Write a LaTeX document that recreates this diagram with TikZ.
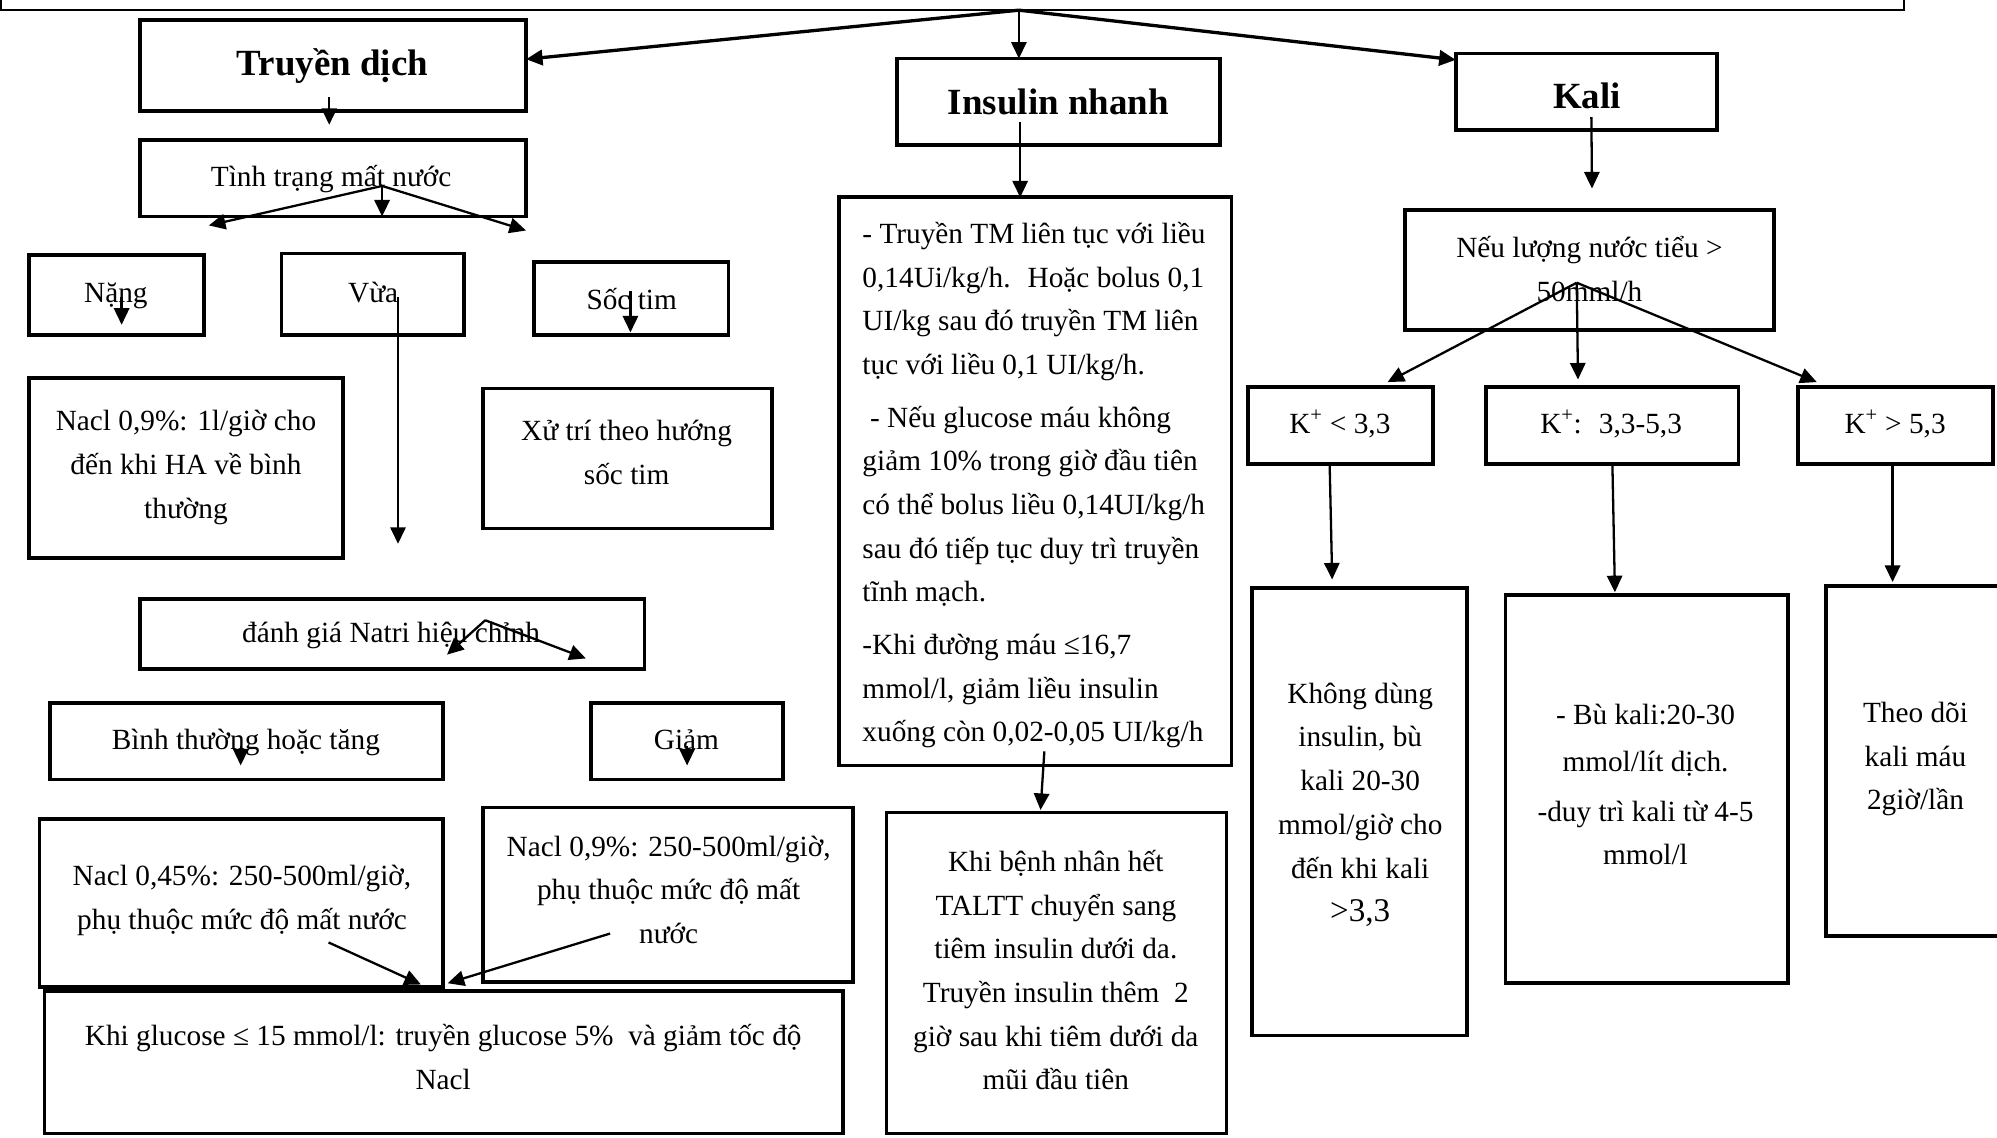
\documentclass[tikz,border=0pt]{standalone}
\usepackage{fontspec}
\setmainfont{Liberation Serif}
\usetikzlibrary{arrows.meta}
% box given by its corners (x1,y1) (x2,y2), y growing downwards
\newcommand\flowbox[6][box]{%
  \node[#1,minimum width={(#5-#3)*1pt},minimum height={(#6-#4)*1pt}]
    (#2) at ({(#3+#5)/2},{(#4+#6)/2}) {};}
\begin{document}
\begin{tikzpicture}[x=1pt,y=-1pt,
  box/.style={draw,line width=3pt,inner sep=0pt,outer sep=0pt},
  thinbox/.style={draw,line width=1.6pt,inner sep=0pt,outer sep=0pt},
  txt/.style={align=center,inner sep=0pt,anchor=north,
    font=\fontsize{23}{34.3}\selectfont},
  head/.style={inner sep=0pt,anchor=base,
    font=\fontsize{29}{34}\selectfont\bfseries},
  arr/.style={line width=1.8pt,-{Triangle[length=13pt,width=12pt]}},
  bigarr/.style={arr,line width=2.6pt}]
\useasboundingbox (0,0) rectangle (1568,893);
\clip (0,0) rectangle (1568,893);

% ---------- boxes ----------
\flowbox[thinbox]{top}{1}{-40}{1495}{8}
\flowbox{truyen}{110}{16}{413}{87}
\flowbox{insulin}{704}{46}{958}{114}
\flowbox{kali}{1143}{42}{1348}{102}

\flowbox{tinh}{110}{110}{413}{170}
\flowbox{nang}{23}{200}{160}{263}
\flowbox{vua}{221}{199}{364}{263}
\flowbox{soc}{419}{206}{572}{263}
\flowbox{naclA}{23}{297}{269}{438}
\flowbox{xutri}{379}{305}{606}{415}
\flowbox{danhgia}{110}{470}{506}{525}
\flowbox{binh}{39}{552}{348}{612}
\flowbox{giam}{464}{552}{615}{612}
\flowbox{naclB}{31}{643}{348}{775}
\flowbox{naclC}{379}{634}{670}{771}
\flowbox{gluc}{35}{778}{662}{890}

\flowbox{insbig}{659}{155}{967}{601}
\flowbox{khibenh}{696}{638}{963}{890}

\flowbox{neu}{1103}{165}{1393}{259}
\flowbox{kA}{980}{304}{1125}{364}
\flowbox{kB}{1167}{304}{1365}{364}
\flowbox{kC}{1412}{304}{1565}{364}
\flowbox{kbA}{983}{462}{1152}{813}
\flowbox{kbB}{1182}{467}{1404}{772}
\flowbox{kbC}{1434}{460}{1590}{735}

% ---------- texts ----------
\node[head] (tTruyen) at (261,59) {Truyền dịch};
\node[head] (tInsulin) at (831,90) {Insulin nhanh};
\node[head] (tKali) at (1246,85) {Kali};

\node[txt] (tTinh) at (260,122) {\strut Tình trạng mất nước};
\node[txt] (tNang) at (91,213) {\strut Nặng};
\node[txt] (tVua) at (293,213) {\strut Vừa};
\node[txt] (tSoc) at (496,219) {\strut Sốc tim};
\node[txt] (tNaclA) at (146,314) {\strut Nacl 0,9\%: 1l/giờ cho\\\strut đến khi HA về bình\\\strut thường};
\node[txt] (tXutri) at (492,322) {\strut Xử trí theo hướng\\\strut sốc tim};
\node[txt] (tDanhgia) at (307,480) {\strut đánh giá Natri hiệu chỉnh};
\node[txt] (tBinh) at (193,564) {\strut Bình thường hoặc tăng};
\node[txt] (tGiam) at (539,564) {\strut Giảm};
\node[txt] (tNaclB) at (190,671) {\strut Nacl 0,45\%: 250-500ml/giờ,\\\strut phụ thuộc mức độ mất nước};
\node[txt] (tNaclC) at (525,648) {\strut Nacl 0,9\%: 250-500ml/giờ,\\\strut phụ thuộc mức độ mất\\\strut nước};
\node[txt] (tGluc) at (348,797) {\strut Khi glucose ≤ 15 mmol/l: truyền glucose 5\%~ và giảm tốc độ\\\strut Nacl};

\node[txt,align=left,anchor=north west] (tInsbig) at (677,167)
  {\strut - Truyền TM liên tục với liều\\
   \strut 0,14Ui/kg/h.~ Hoặc bolus 0,1\\
   \strut UI/kg sau đó truyền TM liên\\
   \strut tục với liều 0,1 UI/kg/h.\\[7pt]
   \strut\hspace{6pt}- Nếu glucose máu không\\
   \strut giảm 10\% trong giờ đầu tiên\\
   \strut có thể bolus liều 0,14UI/kg/h\\
   \strut sau đó tiếp tục duy trì truyền\\
   \strut tĩnh mạch.\\[7pt]
   \strut -Khi đường máu ≤16,7\\
   \strut mmol/l, giảm liều insulin\\
   \strut xuống còn 0,02-0,05 UI/kg/h};
\node[txt] (tKhibenh) at (829,660) {\strut Khi bệnh nhân hết\\\strut TALTT chuyển sang\\\strut tiêm insulin dưới da.\\\strut Truyền insulin thêm~ 2\\\strut giờ sau khi tiêm dưới da\\\strut mũi đầu tiên};

\node[txt] (tNeu) at (1248,178) {\strut Nếu lượng nước tiểu >\\\strut 50mml/h};
\node[txt] (tkA) at (1052,316) {\strut K\textsuperscript{+} < 3,3};
\node[txt] (tkB) at (1265,316) {\strut K\textsuperscript{+}:~ 3,3-5,3};
\node[txt] (tkC) at (1488,316) {\strut K\textsuperscript{+} > 5,3};
\node[txt] (tkbA) at (1068,528) {\strut Không dùng\\\strut insulin, bù\\\strut kali 20-30\\\strut mmol/giờ cho\\\strut đến khi kali\\\strut{\fontsize{26}{34.3}\selectfont >3,3}};
\node[txt] (tkbB) at (1292,545) {\strut - Bù kali:20-30\\[2pt]\strut mmol/lít dịch.\\[5pt]\strut -duy trì kali từ 4-5\\\strut mmol/l};
\node[txt] (tkbC) at (1504,543) {\strut Theo dõi\\\strut kali máu\\\strut 2giờ/lần};

% ---------- connectors ----------
\coordinate (topfork) at (800,8);
\draw[bigarr] (topfork) -- ([yshift=5pt]truyen.east);
\draw[arr] (topfork) -- (topfork |- insulin.north);
\draw[bigarr] (topfork) -- ([yshift=25pt]kali.west);

\draw[arr] ([xshift=-3pt,yshift=11pt]truyen.south) -- ([xshift=-3pt,yshift=12pt]tinh.north);
\draw[arr] ([xshift=-30pt,yshift=18pt]insulin.south) -- ([xshift=-30pt]insulin.south |- insbig.north);
\draw[arr] ([xshift=4pt,yshift=10pt]kali.south) -- ([xshift=2pt,yshift=17pt]neu.north);

% dehydration grade
\coordinate (tfork) at (300,146);
\coordinate (tL) at (164,177);
\coordinate (tR) at (413,181);
\draw[arr] (tfork) -- (tL);
\draw[arr] (tfork) -- (tfork |- tinh.south);
\draw[arr] (tfork) -- (tR);

\draw[arr] ([xshift=4pt,yshift=-2pt]nang.center) -- ([xshift=4pt,yshift=8pt]nang.south);
\draw[arr] ([xshift=20pt,yshift=-2pt]vua.center) -- ([xshift=20pt,yshift=-164pt]vua.south);
\draw[arr] ([xshift=-0.5pt,yshift=6pt]soc.center) -- ([xshift=-0.5pt,yshift=2pt]soc.south);

% corrected sodium
\coordinate (nfork) at (381,487);
\coordinate (nL) at (351,514);
\coordinate (nR) at (460,517);
\draw[arr] (nfork) -- (nL);
\draw[arr] (nfork) -- (nR);

\draw[arr] ([xshift=-4.5pt,yshift=-4pt]binh.center) -- ([xshift=-4.5pt,yshift=11pt]binh.south);
\draw[arr] ([yshift=-4pt]giam.center) -- ([yshift=11pt]giam.south);

\coordinate (gA) at (258,740);
\coordinate (gB) at (479,733);
\draw[arr] (gA) -- ([xshift=-18pt,yshift=5pt]gluc.north);
\draw[arr] (gB) -- ([xshift=3pt,yshift=6pt]gluc.north);

% insulin
\draw[arr] ([xshift=7pt,yshift=11pt]insbig.south) -- ([xshift=-12.5pt,yshift=2pt]khibenh.north);

% potassium
\coordinate (kfork) at (1238,222);
\draw[arr] (kfork) -- ([xshift=37pt,yshift=4pt]kA.north);
\draw[arr] (kfork) -- ([xshift=-27pt,yshift=6pt]kB.north);
\draw[arr] (kfork) -- ([xshift=-62pt,yshift=4pt]kC.north);

\draw[arr] ([xshift=-8.5pt]kA.south) -- ([xshift=-21.5pt,yshift=7pt]kbA.north);
\draw[arr] ([xshift=0pt]kB.south) -- ([xshift=-25pt,yshift=2pt]kbB.north);
\draw[arr] ([xshift=-2.5pt]kC.south) -- ([xshift=-26pt,yshift=3pt]kbC.north);
\end{tikzpicture}
\end{document}
